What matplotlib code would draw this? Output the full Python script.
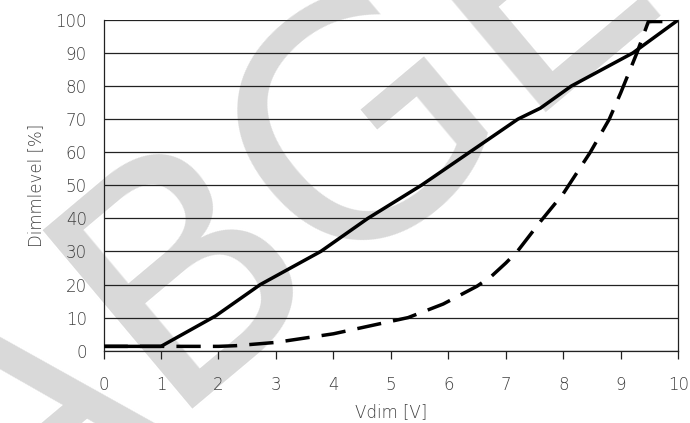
import numpy as np
from matplotlib import pyplot as plt

# solid curve (read at grid crossings)
solid_x = [0, 1, 1.95, 2.73, 3.78, 4.6, 5.53, 6.37, 7.21, 7.6, 8.14, 9.21, 10]
solid_y = [1.3, 1.3, 10.5, 20, 30, 40, 50, 60, 70, 73.3, 80, 90, 100]

# dashed curve
dash_x = [0, 2, 2.3, 3, 4, 4.85, 5.3, 5.91, 6.5, 6.75, 7.0, 7.2, 7.6, 8.0,
          8.47, 8.8, 9.0, 9.28, 9.48, 9.75]
dash_y = [1.3, 1.3, 1.5, 2.5, 5.1, 8.3, 10, 14.1, 19.5, 22.5, 26.5, 30, 39, 47.5,
          60, 70, 78, 90, 99.5, 99.5]

x_ticks = list(range(0, 11))
y_ticks = list(range(0, 101, 10))

plt.rcParams['font.family'] = ['DejaVu Sans']

fig = plt.figure(figsize=(6.9, 4.23), dpi=100)
ax = fig.add_axes([0.150, 0.171, 0.833, 0.782])

# watermark
ax.text(-0.08, -0.18, 'ABGELÖST', transform=fig.transFigure, fontsize=230,
        color='#d9d9d9', rotation=40,
        rotation_mode='anchor', ha='left', va='center', zorder=0.5, clip_on=False)

ax.plot(solid_x, solid_y, color='black', lw=2.5, solid_joinstyle='round', zorder=3)
ax.plot(dash_x, dash_y, color='black', lw=2.5, linestyle=(0, (7, 3.5)),
        dash_capstyle='butt', zorder=3)

ax.set_xlim(0, 10)
ax.set_ylim(0, 100)
ax.set_xticks(x_ticks)
ax.set_yticks(y_ticks)
ax.set_yticks([0, 100], minor=True)
ax.grid(axis='y', color='#222222', lw=0.9)

for s in ['left', 'bottom', 'right']:
    ax.spines[s].set_color('#222222')
    ax.spines[s].set_linewidth(0.9)
ax.spines['top'].set_visible(False)

ax.tick_params(axis='x', direction='out', length=6, width=0.9, color='#222222',
               labelsize=12, labelcolor='#404040', pad=12)
ax.tick_params(axis='y', which='major', length=0, labelsize=12,
               labelcolor='#404040', pad=12)
ax.tick_params(axis='y', which='minor', length=6, width=0.9, color='#222222')
for lab in ax.get_xticklabels() + ax.get_yticklabels():
    lab.set_fontweight('light')

ax.set_xlabel('Vdim [V]', fontsize=12, color='#404040', labelpad=7,
              fontweight='light')
ax.set_ylabel('Dimmlevel [%]', fontsize=12, color='#404040', labelpad=7,
              fontweight='light')

plt.savefig('out.png', dpi=100)
